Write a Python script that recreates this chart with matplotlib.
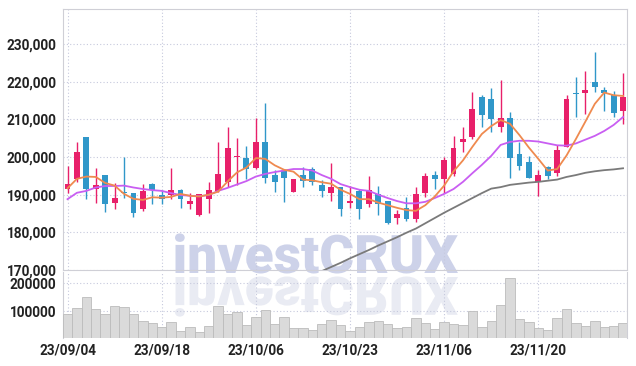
import numpy as np
import matplotlib.pyplot as plt
from matplotlib.textpath import TextPath
from matplotlib.patches import PathPatch
from matplotlib.font_manager import FontProperties
from matplotlib.transforms import Affine2D
from matplotlib.ticker import FuncFormatter

plt.rcParams['font.family'] = ['Roboto', 'DejaVu Sans']

# 일봉 데이터 (23/09/04 ~ 23/12/01)
opens = [191600, 194200, 205300, 191600, 195200, 187900, 190600, 190400, 186300, 192800,
         189800, 189800, 191200, 187600, 184700, 188900, 191000, 193400, 200100, 199700,
         197100, 203900, 195200, 196300, 190600, 195200, 196700, 192600, 190400, 191900,
         187700, 191100, 187600, 190300, 188300, 183900, 186400, 183500, 190400, 195200,
         194200, 195600, 204100, 205200, 216000, 215400, 207900, 210300, 200800, 198700,
         193400, 197300, 195700, 202700, 216900, 216900, 219900, 217800, 216500, 212300]
highs = [197700, 203900, 205300, 197000, 195200, 193200, 199900, 190400, 192800, 193100,
         191200, 197000, 191500, 190500, 190300, 193300, 204100, 207900, 205100, 202900,
         210300, 214300, 196500, 196300, 194100, 197300, 197400, 193900, 198300, 191900,
         192400, 191400, 195000, 192400, 188300, 185900, 189500, 191900, 195800, 196300,
         200100, 205700, 208000, 217200, 216500, 218200, 220400, 211900, 204100, 200300,
         196500, 197500, 203200, 216500, 221200, 222700, 227800, 218700, 217500, 222200]
lows = [190400, 193400, 188800, 187700, 185400, 186200, 189000, 184000, 185600, 187500,
        187500, 188800, 186400, 186200, 184300, 185000, 190600, 192100, 192600, 194200,
        196800, 193000, 190800, 188000, 190600, 192000, 192500, 189500, 188300, 184300,
        186400, 183500, 186600, 184600, 182200, 182100, 183100, 182800, 189300, 191400,
        190400, 195000, 201400, 204700, 208000, 206700, 206500, 194300, 196500, 194500,
        189700, 194100, 194900, 202700, 210700, 211400, 217200, 212300, 210700, 208800]
closes = [192800, 201300, 191600, 192600, 187400, 189100, 190400, 185000, 191000, 191200,
          188800, 191200, 188900, 188200, 190300, 191200, 195500, 202300, 200200, 196700,
          203900, 194500, 193400, 194400, 194100, 193700, 193400, 191100, 192000, 186300,
          188300, 186300, 191200, 187600, 182500, 184800, 183500, 190200, 195000, 194200,
          199200, 202400, 204800, 212700, 211200, 210100, 210300, 199800, 197600, 194500,
          195200, 195000, 201900, 215400, 216800, 217800, 218700, 216900, 211800, 215800]
volumes = [90500, 111700, 149500, 108100, 90500, 118700, 115200, 90500, 66800, 58700,
           43500, 62200, 30400, 43500, 26900, 48100, 117700, 90500, 97500, 51600,
           79900, 104600, 54000, 79900, 41000, 41000, 33900, 55100, 69300, 51600,
           31500, 43500, 61100, 65700, 55100, 41000, 44500, 75300, 58700, 36400,
           62200, 54000, 51600, 100000, 44500, 65700, 121200, 216600, 72800, 62200,
           41000, 33900, 76300, 108100, 58700, 48100, 65700, 44500, 48100, 58700]

# 이동평균선
ma5 = [191700, 194200, 194800, 194700, 193100, 192400, 190200, 188900, 188600, 189300,
       189200, 189400, 190200, 189700, 189500, 190000, 190800, 193500, 195900, 197200,
       199700, 199500, 197800, 196600, 196100, 194000, 193800, 193300, 192900, 191300,
       190200, 188800, 188800, 187900, 187200, 186500, 185900, 185700, 187200, 189500,
       192400, 196200, 199100, 202700, 206100, 208200, 209800, 208800, 205800, 202500,
       199500, 196400, 196800, 200400, 204800, 209400, 214100, 217100, 216400, 216200]
ma20 = [188800, 190500, 191000, 191900, 192300, 192300, 192400, 191900, 191500, 191200,
        191000, 190400, 189900, 189700, 189600, 189900, 191000, 191800, 192700, 193600,
        194800, 195500, 196000, 196400, 196800, 196800, 196400, 195200, 194200, 192800,
        192000, 191300, 191000, 190000, 189100, 188300, 187700, 187700, 188100, 189100,
        190200, 191500, 193400, 195700, 197900, 200300, 203200, 204000, 204300, 204300,
        204100, 203600, 203100, 203000, 203600, 204600, 205600, 206900, 208500, 210600]
ma60 = [np.nan] * 27 + [
        169700, 170800, 171900, 173100, 174200, 175300, 176500, 177600, 178700, 179900,
        181000, 182400, 183800, 185200, 186500, 187800, 189100, 190400, 191600, 192000,
        192600, 192900, 193200, 193400, 193700, 194000, 194700, 195200, 195800, 196200,
        196500, 196700, 197000]

tick_pos = [0, 10, 20, 30, 40, 50]
tick_labels = ['23/09/04', '23/09/18', '23/10/06', '23/10/23', '23/11/06', '23/11/20']

RED = '#e8206a'
BLUE = '#3097c9'
FRAME = '#cfcfd6'
GRID = '#c6c9dd'
LABEL = dict(labelsize=9.8, labelcolor='#222222')

fig = plt.figure(figsize=(6.36, 3.66), dpi=100)
fig.patch.set_facecolor('white')
ax = fig.add_axes([0.0995, 0.2623, 0.8868, 0.7123])
axv = fig.add_axes([0.0995, 0.0765, 0.8868, 0.1803], sharex=ax)
for a in (ax, axv):
    a.set_facecolor('none')

o = np.array(opens)
h = np.array(highs)
l = np.array(lows)
c = np.array(closes)
x = np.arange(len(c))
cols = np.where(c >= o, RED, BLUE)

ax.vlines(x, l, h, colors=cols, linewidth=1.0, zorder=3)
ax.bar(x, np.maximum(np.abs(c - o), 250), bottom=np.minimum(o, c), width=0.62,
       color=cols, zorder=4)
ax.plot(x, ma60, color='#7a7a7a', lw=1.3, zorder=5)
ax.plot(x, ma20, color='#c95ef2', lw=1.3, zorder=5)
ax.plot(x, ma5, color='#ef8a4f', lw=1.3, zorder=6)

ax.set_xlim(-0.45, 59.45)
ax.set_ylim(170000, 239200)
ax.set_yticks(range(170000, 240000, 10000))
ax.yaxis.set_major_formatter(FuncFormatter(lambda v, p: f'{v:,.0f}'))
ax.set_xticks(tick_pos)
ax.tick_params(axis='x', labelbottom=False, length=0)
ax.tick_params(axis='y', length=0, pad=5, **LABEL)
ax.grid(color=GRID, linestyle=(0, (1, 2)), linewidth=0.8)
for s in ax.spines.values():
    s.set_color(FRAME)

axv.bar(x, volumes, width=1.0, color='#dadada', edgecolor='#bcbcbc', linewidth=0.6, zorder=3)
axv.set_ylim(5600, 238900)
axv.set_yticks([100000, 200000])
axv.set_xticks(tick_pos)
axv.set_xticklabels(tick_labels)
axv.tick_params(length=0, **LABEL)
axv.tick_params(axis='x', pad=4)
axv.tick_params(axis='y', pad=5)
axv.grid(color=GRID, linestyle=(0, (1, 2)), linewidth=0.8)
for s in axv.spines.values():
    s.set_color(FRAME)
axv.spines['top'].set_visible(False)
axv.spines['bottom'].set_visible(False)

for t in ax.get_yticklabels() + axv.get_yticklabels() + axv.get_xticklabels():
    t.set_fontweight('bold')

# 워터마크 + 반사
fp = FontProperties(family='Roboto', weight='black')
tp = TextPath((0, 0), 'investCRUX', size=100, prop=fp)
ext = tp.get_extents()
k = 283 / ext.width          # px per path unit
x0, base = 175, 273          # px from left / top
wm = Affine2D().translate(-ext.x0, 0).scale(k / 100, k / 100).translate(x0 / 100, (366 - base) / 100)
fig.patches.append(PathPatch(tp, transform=wm + fig.dpi_scale_trans, color='#cdd2e9',
                             lw=0, zorder=-1))
rf = Affine2D().translate(-ext.x0, 0).scale(k / 100, -k / 100).translate(x0 / 100, (366 - base - 4) / 100)
fig.patches.append(PathPatch(tp, transform=rf + fig.dpi_scale_trans, color='#e9ebf3',
                             lw=0, zorder=-1))

fig.savefig('out.png', dpi=100)
